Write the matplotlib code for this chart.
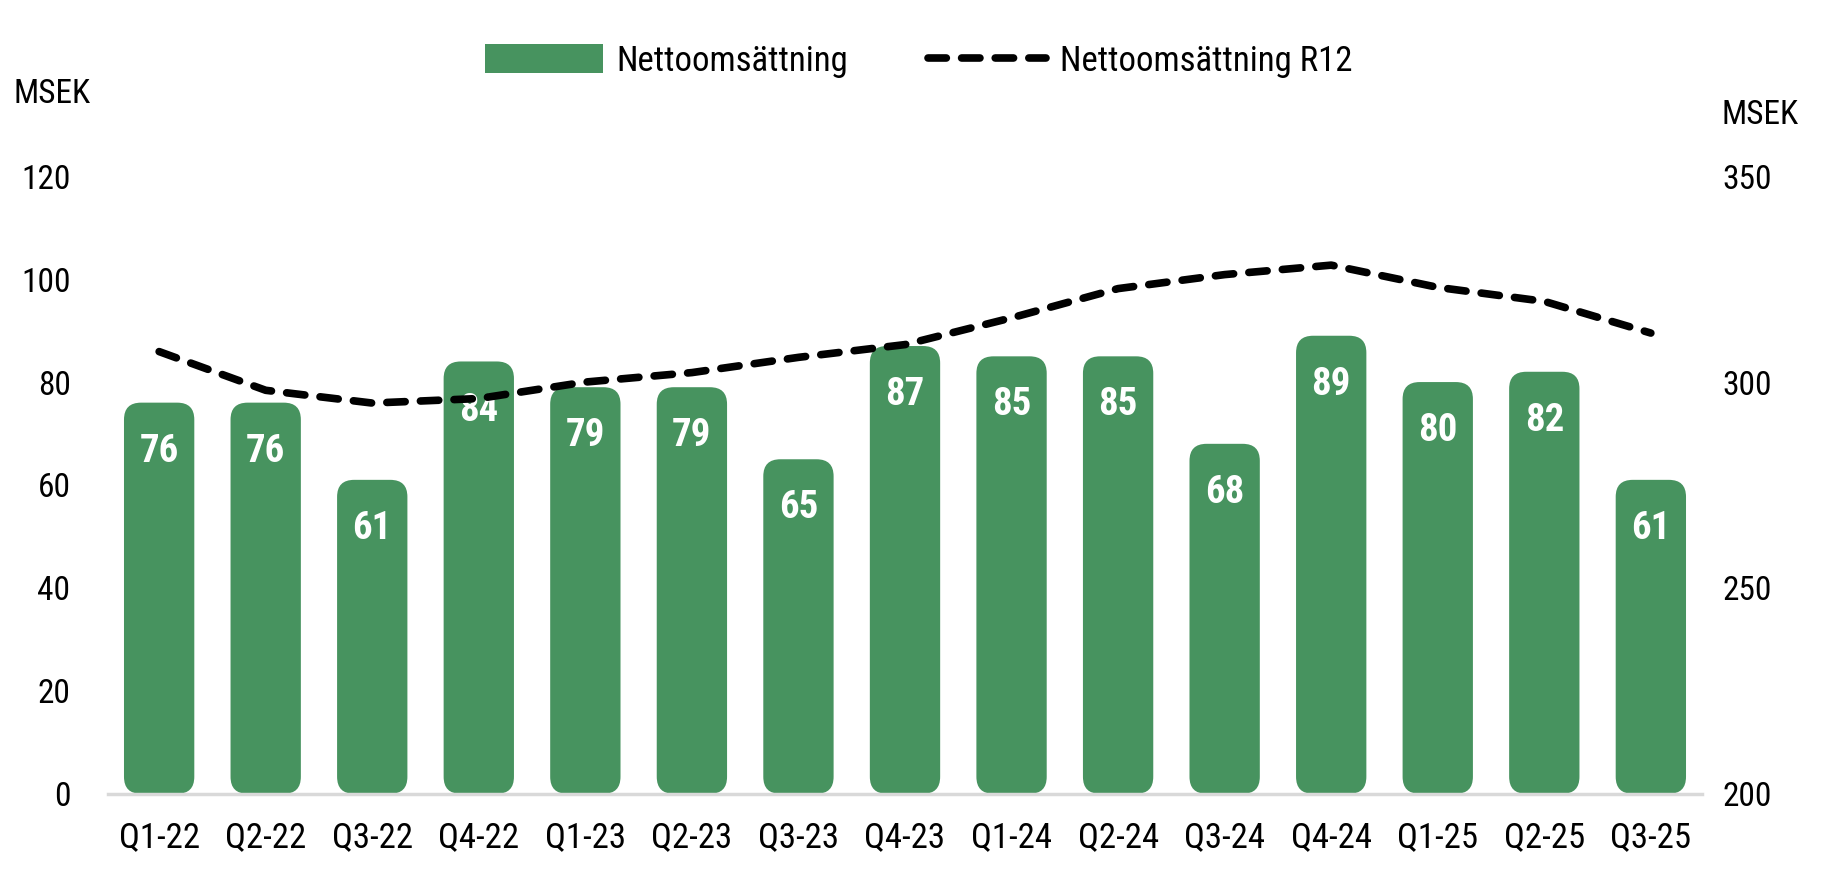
import matplotlib.pyplot as plt
from matplotlib import font_manager as fm
from matplotlib.patches import FancyBboxPatch, Patch
from matplotlib.lines import Line2D

# --------------------------------------------------
# Data
# --------------------------------------------------
quarters = ["Q1-22", "Q2-22", "Q3-22", "Q4-22", "Q1-23", "Q2-23", "Q3-23", "Q4-23",
            "Q1-24", "Q2-24", "Q3-24", "Q4-24", "Q1-25", "Q2-25", "Q3-25"]
net_sales = [76, 76, 61, 84, 79, 79, 65, 87, 85, 85, 68, 89, 80, 82, 61]
net_sales_r12 = [307.4, 298.0, 294.9, 296.0, 300.0, 302.3, 306.0, 309.1,
                 315.6, 322.7, 326.1, 328.4, 323.0, 319.6, 311.9]

green = "#47935F"

# narrow font with a bold cut, first one that is installed
bold_ok = {f.name for f in fm.fontManager.ttflist
           if isinstance(f.weight, int) and f.weight >= 700}
candidates = ["Liberation Sans Narrow", "Arial Narrow", "Roboto Condensed",
              "IBM Plex Sans Condensed", "Archivo Narrow", "PT Sans Narrow"]
narrow = [c for c in candidates if c in bold_ok][:1]
plt.rcParams['font.family'] = narrow + ['DejaVu Sans']

# --------------------------------------------------
# Plot
# --------------------------------------------------
fig = plt.figure(figsize=(18.37, 8.81), dpi=100)
ax = fig.add_axes([108 / 1837, 0.099, (1702 - 108) / 1837, 0.701])
ax2 = ax.twinx()
ax.set_zorder(ax2.get_zorder() - 1)
ax.patch.set_visible(False)

x = list(range(len(quarters)))
bars = ax.bar(x, net_sales, width=0.66, color=green)

# swap plain bars for rounded ones
for b in bars:
    bx, by = b.get_x(), b.get_y()
    bw, bh = b.get_width(), b.get_height()
    b.set_visible(False)
    rb = FancyBboxPatch((bx, by), bw, bh,
                        boxstyle="round,pad=0,rounding_size=0.16",
                        mutation_aspect=20.6, facecolor=green, edgecolor="none")
    ax.add_patch(rb)

for xi, v in zip(x, net_sales):
    ax.annotate(f"{v}", (xi, v), xytext=(0, -35), textcoords="offset points",
                ha="center", va="center", color="white", fontsize=28,
                fontweight="bold")

ax.set_xlim(-0.48, 14.48)
ax.set_ylim(0, 120)
ax.set_yticks(range(0, 121, 20))
ax.set_xticks(x)
ax.set_xticklabels(quarters)

dash = (0, (2.4, 2.0))
ax2.plot(x, net_sales_r12, color="black", lw=5.5, ls=dash, dash_capstyle="round")
ax2.set_ylim(200, 350)
ax2.set_yticks(range(200, 351, 50))

for a in (ax, ax2):
    for s in a.spines.values():
        s.set_visible(False)
    a.tick_params(length=0, labelsize=24)
ax.tick_params(axis="x", labelsize=25)
ax.spines["bottom"].set_visible(True)
ax.spines["bottom"].set_color("#D9D9D9")
ax.spines["bottom"].set_linewidth(2.5)
ax.tick_params(axis="x", pad=20)
ax.tick_params(axis="y", pad=27)
ax2.tick_params(axis="y", pad=15)

fig.text(14 / 1837, 1 - 94 / 881, "MSEK", fontsize=24, ha="left", va="center")
fig.text(1722 / 1837, 1 - 115 / 881, "MSEK", fontsize=24, ha="left", va="center")

handles = [Patch(facecolor=green, edgecolor="none"),
           Line2D([0], [0], color="black", lw=5.5, ls=dash, dash_capstyle="round")]
fig.legend(handles, ["Nettoomsättning", "Nettoomsättning R12"],
           loc="center", bbox_to_anchor=(0.5, 1 - 61 / 881), ncol=2,
           frameon=False, fontsize=25, handlelength=3.4, handleheight=0.9,
           columnspacing=2.3, handletextpad=0.4)

plt.savefig("out.png", dpi=100)
